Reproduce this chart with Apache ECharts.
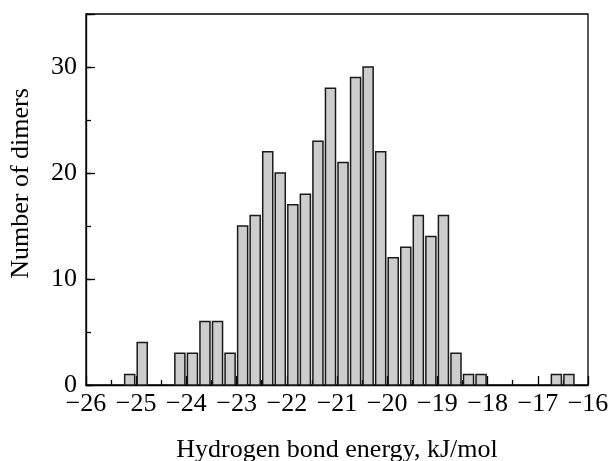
<!DOCTYPE html>
<html>
<head>
<meta charset="utf-8">
<script src="https://cdn.jsdelivr.net/npm/echarts@6/dist/echarts.min.js"></script>
<style>
  html, body { margin: 0; padding: 0; background: #fff; }
  #chart { width: 611px; height: 461px; }
</style>
</head>
<body>
<div id="chart"></div>
<script>
// Histogram of hydrogen bond energies: left bin edges (kJ/mol) and dimer counts.
var binWidth = 0.25;
var binLeft = [-25.25, -25.0, -24.25, -24.0, -23.75, -23.5, -23.25, -23.0, -22.75, -22.5,
               -22.25, -22.0, -21.75, -21.5, -21.25, -21.0, -20.75, -20.5, -20.25, -20.0,
               -19.75, -19.5, -19.25, -19.0, -18.75, -18.5, -18.25, -16.75, -16.5];
var counts  = [1, 4, 3, 3, 6, 6, 3, 15, 16, 22,
               20, 17, 18, 23, 28, 21, 29, 30, 22, 12,
               13, 16, 14, 16, 3, 1, 1, 1, 1];

var xMin = -26, xMax = -16, xStep = 1;
var yMin = 0, yMax = 35, yStep = 10, yMinorStep = 5;
var xTitle = 'Hydrogen bond energy, kJ/mol';
var yTitle = 'Number of dimers';

var bins = binLeft.map(function (lo, i) { return [lo, lo + binWidth, counts[i]]; });

var font = '"Liberation Serif", "Times New Roman", serif';
var textStyle = { fontFamily: font, fontSize: 26, color: '#000' };

function minusSign(v) { return String(v).replace('-', '\u2212'); }

var chart = echarts.init(document.getElementById('chart'), null, { renderer: 'canvas' });
chart.setOption({
  backgroundColor: '#fff',
  animation: false,
  grid: {
    left: 86, right: 23, top: 14, bottom: 76,
    outerBoundsMode: 'none', containLabel: false,
    show: true, borderColor: '#000', borderWidth: 1.3, backgroundColor: 'transparent'
  },
  xAxis: {
    type: 'value', min: xMin, max: xMax, interval: xStep,
    name: xTitle, nameLocation: 'middle', nameGap: 52, nameTextStyle: textStyle,
    axisLine: { show: true, lineStyle: { color: '#000', width: 1.3 } },
    axisTick: { show: true, inside: true, length: 9, lineStyle: { color: '#000', width: 1.3 } },
    minorTick: { show: true, splitNumber: 2, length: 5, lineStyle: { color: '#000', width: 1.3 } },
    axisLabel: Object.assign({ margin: 6, formatter: minusSign }, textStyle),
    splitLine: { show: false }
  },
  yAxis: [{
    type: 'value', min: yMin, max: yMax, interval: yStep,
    name: yTitle, nameLocation: 'middle', nameGap: 52, nameRotate: 90,
    // title sits a little above the axis centre
    nameTextStyle: Object.assign({ padding: [0, 0, 0, 32] }, textStyle),
    axisLine: { show: true, lineStyle: { color: '#000', width: 1.3 } },
    axisTick: { show: true, inside: true, length: 9, lineStyle: { color: '#000', width: 1.3 } },
    axisLabel: Object.assign({ margin: 9, formatter: function (v) { return v % yStep === 0 ? String(v) : ''; } }, textStyle),
    splitLine: { show: false }
  }, {
    // minor ticks every 5 counts
    type: 'value', min: yMin, max: yMax, interval: yMinorStep, position: 'left', offset: 0,
    axisLine: { show: false },
    axisTick: { show: true, inside: true, length: 5, lineStyle: { color: '#000', width: 1.3 } },
    axisLabel: { show: false },
    splitLine: { show: false }
  }],
  series: [{
    type: 'custom',
    data: bins,
    encode: { x: [0, 1], y: 2 },
    renderItem: function (params, api) {
      var top = api.coord([api.value(0), api.value(2)]);
      var base = api.coord([api.value(1), 0]);
      return {
        type: 'rect',
        shape: { x: top[0] + 1, y: top[1], width: base[0] - top[0] - 2.5, height: base[1] - top[1] },
        style: { fill: '#cdcdcd', stroke: '#1a1a1a', lineWidth: 1.5 }
      };
    }
  }]
});
</script>
</body>
</html>
